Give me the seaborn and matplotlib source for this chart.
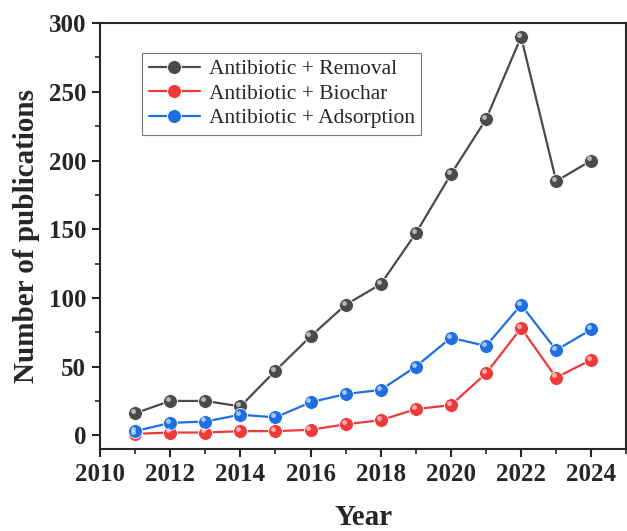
import numpy as np
import pandas as pd
import seaborn as sns
import matplotlib.pyplot as plt
from matplotlib.ticker import MultipleLocator
from matplotlib.transforms import ScaledTranslation

years = [2011, 2012, 2013, 2014, 2015, 2016, 2017, 2018, 2019, 2020, 2021, 2022, 2023, 2024]
removal = [16, 25, 25, 21, 47, 72, 95, 110, 147, 190, 230, 290, 185, 200]
biochar = [1, 2, 2, 3, 3, 4, 8, 11, 19, 22, 45, 78, 42, 55]
adsorption = [3, 9, 10, 15, 13, 24, 30, 33, 50, 71, 65, 95, 62, 77]

series = ["Antibiotic + Removal", "Antibiotic + Biochar", "Antibiotic + Adsorption"]
colors = ["#4a4a4a", "#f03a3a", "#1f6fe0"]

df = pd.concat([
    pd.DataFrame({"Year": years, "count": removal, "series": series[0]}),
    pd.DataFrame({"Year": years, "count": biochar, "series": series[1]}),
    pd.DataFrame({"Year": years, "count": adsorption, "series": series[2]}),
])

sns.set_style("ticks")
plt.rcParams["font.family"] = ["Liberation Serif", "DejaVu Serif"]

fig = plt.figure(figsize=(6.27, 5.31), dpi=100)
ax = fig.add_axes([0.1595, 0.1544, 0.8395, 0.802])

sns.lineplot(data=df, x="Year", y="count", hue="series", hue_order=series,
             palette=colors, marker="o", markersize=10, linewidth=1.6,
             markeredgewidth=0.6, ax=ax)

# glossy highlight on each sphere (shifted up-left)
shift = ax.transData + ScaledTranslation(-1.5 / 72, 1.5 / 72, fig.dpi_scale_trans)
for vals in [removal, biochar, adsorption]:
    ax.plot(years, vals, linestyle="none", marker="o", markersize=3.5,
            color="white", alpha=0.6, markeredgewidth=0, transform=shift)

ax.set_xlim(2010, 2025)
ax.set_ylim(-10, 300)
ax.xaxis.set_major_locator(MultipleLocator(2))
ax.xaxis.set_minor_locator(MultipleLocator(1))
ax.yaxis.set_major_locator(MultipleLocator(50))
ax.yaxis.set_minor_locator(MultipleLocator(25))
ax.tick_params(which="major", direction="out", length=6, width=1.5,
               labelsize=18, pad=4)
ax.tick_params(which="minor", direction="out", length=3.5, width=1.2)
for lab in ax.get_xticklabels() + ax.get_yticklabels():
    lab.set_fontweight("bold")
for sp in ax.spines.values():
    sp.set_visible(True)
    sp.set_linewidth(1.5)

ax.set_xlabel("Year", fontsize=21, fontweight="bold", labelpad=13)
ax.set_ylabel("Number of publications", fontsize=21, fontweight="bold", labelpad=6)

leg = ax.legend(loc="upper left", bbox_to_anchor=(0.08, 0.93), fontsize=15.5,
                frameon=True, fancybox=False, edgecolor="#555555",
                handlelength=2.4, handletextpad=0.4, borderpad=0.3,
                labelspacing=0.2, borderaxespad=0)
leg.get_frame().set_linewidth(0.8)

fig.savefig("out.png", dpi=100)
